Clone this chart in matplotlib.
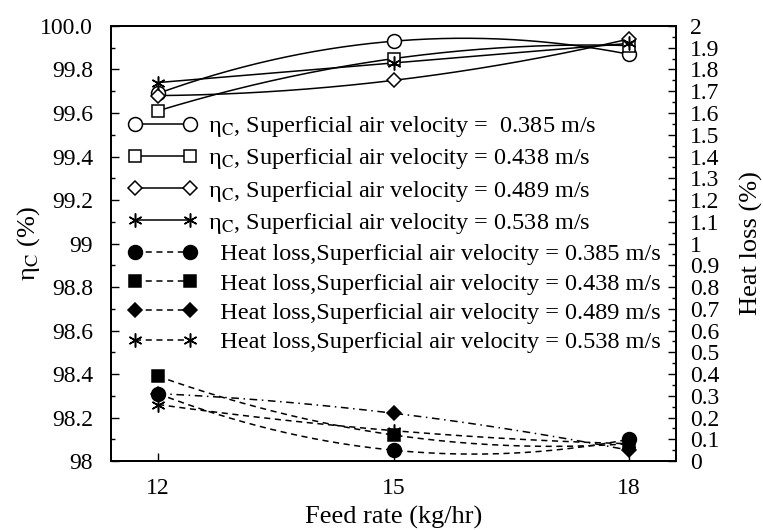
import numpy as np
import matplotlib
matplotlib.use("Agg")
import matplotlib.pyplot as plt
from matplotlib.lines import Line2D
from matplotlib.ticker import MultipleLocator, FixedLocator

plt.rcParams["font.family"] = ["Liberation Serif", "DejaVu Serif"]
plt.rcParams["mathtext.fontset"] = "stix"

# Feed rate (kg/hr)
feed_rate = [12, 15, 18]

# Combustion efficiency eta_C (%) per superficial air velocity
eta_0385 = [99.69, 99.93, 99.87]
eta_0438 = [99.61, 99.85, 99.91]
eta_0489 = [99.68, 99.75, 99.94]
eta_0538 = [99.74, 99.83, 99.92]

# Heat loss (%) per superficial air velocity
loss_0385 = [0.31, 0.05, 0.10]
loss_0438 = [0.39, 0.12, 0.08]
loss_0489 = [0.31, 0.22, 0.05]
loss_0538 = [0.26, 0.14, 0.08]

velocities = ["0.385", "0.438", "0.489", "0.538"]

left_ticks = [98.0, 98.2, 98.4, 98.6, 98.8, 99.0, 99.2, 99.4, 99.6, 99.8, 100.0]
left_labels = ["98", "98.2", "98.4", "98.6", "98.8", "99", "99.2", "99.4", "99.6", "99.8", "100.0"]
right_ticks = [round(0.1 * i, 1) for i in range(21)]
right_labels = ["0", "0.1", "0.2", "0.3", "0.4", "0.5", "0.6", "0.7", "0.8", "0.9", "1",
                "1.1", "1.2", "1.3", "1.4", "1.5", "1.6", "1.7", "1.8", "1.9", "2"]

FS_LEG = 17.5
FS_TICK = 17
FS_LAB = 19
asterisk = (6, 2, 0)
ETA = "η$_{\\mathrm{C}}$"

fig = plt.figure(figsize=(7.63, 5.30), dpi=100)
ax = fig.add_axes([0.1455, 0.130, 0.7405, 0.821])
ax2 = ax.twinx()


def smooth_curve(axis, x, y, **kw):
    """Draw a smooth quadratic curve through three points."""
    coef = np.polyfit(x, y, 2)
    xs = np.linspace(min(x), max(x), 200)
    axis.plot(xs, np.polyval(coef, xs), **kw)


eta_series = [eta_0385, eta_0438, eta_0489, eta_0538]
eta_markers = [dict(marker="o", markersize=10, mfc="white"),
               dict(marker="s", markersize=8, mfc="white"),
               dict(marker="D", markersize=7.5, mfc="white"),
               dict(marker=asterisk, markersize=10, mfc="black")]

loss_series = [loss_0385, loss_0438, loss_0489, loss_0538]
loss_markers = [dict(marker="o", markersize=10, mfc="black"),
                dict(marker="s", markersize=8, mfc="black"),
                dict(marker="D", markersize=7.5, mfc="black"),
                dict(marker=asterisk, markersize=10, mfc="black")]
loss_styles = [(0, (4, 3)), (0, (4, 3)), (0, (5, 3, 1, 3)), (0, (4, 3))]

for ys, mk in zip(eta_series, eta_markers):
    smooth_curve(ax, feed_rate, ys, color="black", lw=1.1, zorder=2)
    ax.plot(feed_rate, ys, linestyle="none", color="black", mec="black",
            mew=1.1, zorder=3, **mk)

for ys, mk, ls in zip(loss_series, loss_markers, loss_styles):
    smooth_curve(ax2, feed_rate, ys, color="black", lw=1.1, linestyle=ls, zorder=2)
    ax2.plot(feed_rate, ys, linestyle="none", color="black", mec="black",
             mew=1.1, zorder=3, **mk)

handles = []
labels = []
for v, mk in zip(velocities, eta_markers):
    handles.append(Line2D([0], [0], color="black", lw=1.1, mec="black", mew=1.1, **mk))
    sep = "=  " if v == "0.385" else "= "
    labels.append(ETA + ", Superficial air velocity " + sep + v + " m/s")
for v, mk in zip(velocities, loss_markers):
    handles.append(Line2D([0], [0], color="black", lw=1.1, linestyle=(0, (4, 3)),
                          mec="black", mew=1.1, **mk))
    labels.append("  Heat loss,Superficial air velocity = " + v + " m/s")

leg = ax2.legend(handles, labels, loc="upper left", bbox_to_anchor=(0.012, 0.82),
                 frameon=False, fontsize=FS_LEG, numpoints=2, handlelength=2.86,
                 handletextpad=0.47, labelspacing=0.3, borderaxespad=0.0)

ax.set_xlim(11.4, 18.6)
ax.set_ylim(98, 100)
ax2.set_ylim(0, 2)

ax.set_xticks(feed_rate)
ax.set_xticklabels([str(v) for v in feed_rate], fontsize=FS_TICK)
ax.yaxis.set_major_locator(FixedLocator(left_ticks))
ax.set_yticklabels(left_labels, fontsize=FS_TICK)
ax.yaxis.set_minor_locator(MultipleLocator(0.1))
ax2.yaxis.set_major_locator(FixedLocator(right_ticks))
ax2.set_yticklabels(right_labels, fontsize=FS_TICK)
ax2.yaxis.set_minor_locator(MultipleLocator(0.05))

ax.tick_params(axis="x", which="major", direction="in", length=6, width=1.0, pad=12)
ax.tick_params(axis="y", which="major", direction="in", length=6, width=1.0, pad=13)
ax.tick_params(axis="y", which="minor", direction="in", length=3, width=1.0)
ax2.tick_params(axis="y", which="major", direction="in", length=6, width=1.0, pad=10)
ax2.tick_params(axis="y", which="minor", direction="in", length=3, width=1.0)

for a in (ax, ax2):
    for s in a.spines.values():
        s.set_linewidth(1.3)

ax.set_xlabel("Feed rate (kg/hr)", fontsize=FS_LAB, labelpad=5)
ax.set_ylabel(ETA + " (%)", fontsize=FS_LAB)
ax.yaxis.set_label_coords(-0.122, 0.5)
ax2.set_ylabel("Heat loss (%)", fontsize=FS_LAB)
ax2.yaxis.set_label_coords(1.113, 0.5)

fig.savefig("out.png", dpi=100, facecolor="white")
